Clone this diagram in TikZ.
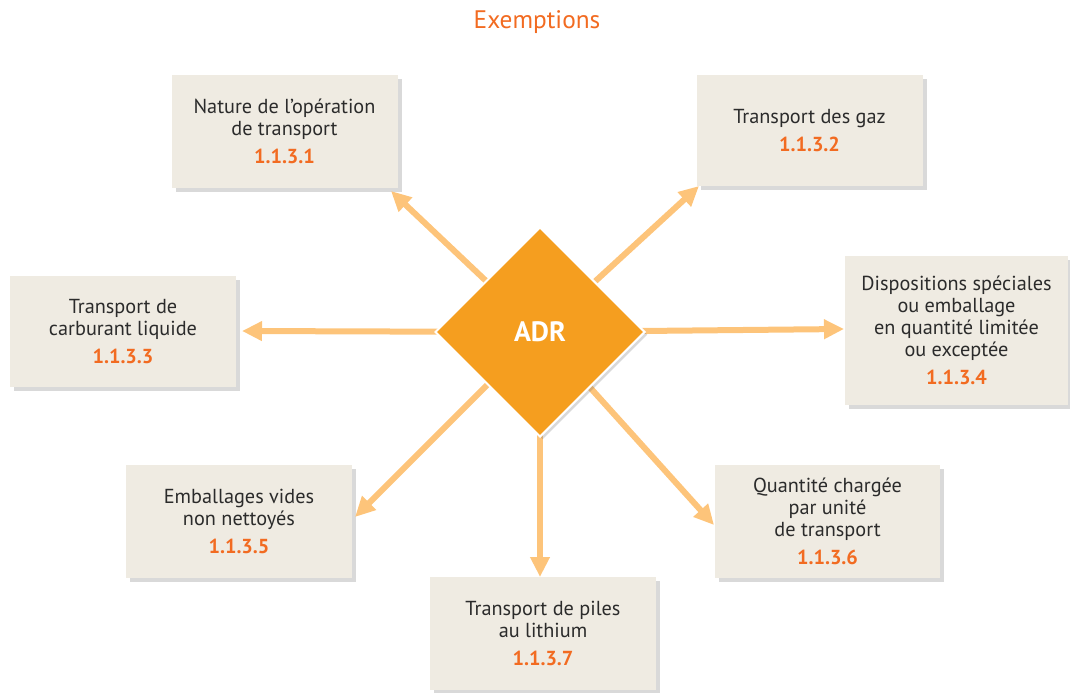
\documentclass[tikz,border=0pt]{standalone}
\usepackage{fontspec}
\setmainfont{PT Sans}
\usetikzlibrary{arrows.meta,shapes.geometric,shadows}
\definecolor{boxfill}{HTML}{EFEBE2}
\definecolor{numorange}{HTML}{F26B21}
\definecolor{arrowc}{HTML}{FDC47A}
\definecolor{diafill}{HTML}{F59E1F}
\definecolor{txt}{HTML}{2B2B2B}
\tikzset{
  infobox/.style={fill=boxfill, draw=none, minimum width=226*0.75pt, inner sep=0pt,
    align=center, text=txt, font=\fontsize{15.2pt}{16.5pt}\selectfont,
    drop shadow={shadow xshift=3pt, shadow yshift=-3pt, opacity=0.25, fill=black!60}},
  ray/.style={draw=arrowc, line width=4.5pt, -{Triangle[length=15pt,width=14pt]}},
}
\newcommand{\nb}[1]{\\[5pt]{\bfseries\color{numorange}#1}}
\begin{document}
\begin{tikzpicture}[x=0.75pt,y=-0.75pt]
\useasboundingbox (0,0) rectangle (1070,692);
% title
\node[text=numorange, font=\fontsize{19pt}{22pt}\selectfont] (title) at (537,22) {Exemptions};
% boxes
\node[infobox, minimum height=113*0.75pt] (b1) at (284.5,131.5) {Nature de l’opération\\de transport\nb{1.1.3.1}};
\node[infobox, minimum height=111*0.75pt] (b2) at (809.5,130.5) {Transport des gaz\nb{1.1.3.2}};
\node[infobox, minimum height=111*0.75pt] (b3) at (123,331.5) {Transport de\\carburant liquide\nb{1.1.3.3}};
\node[infobox, minimum width=223*0.75pt, minimum height=149*0.75pt] (b4) at (956.5,330.5) {Dispositions spéciales\\ou emballage\\en quantité limitée\\ou exceptée\nb{1.1.3.4}};
\node[infobox, minimum height=113*0.75pt] (b5) at (239,521.5) {Emballages vides\\non nettoyés\nb{1.1.3.5}};
\node[infobox, minimum width=225*0.75pt, minimum height=113*0.75pt] (b6) at (827.5,521.5) {Quantité chargée\\par unité\\de transport\nb{1.1.3.6}};
\node[infobox, minimum height=113*0.75pt] (b7) at (543,633.5) {Transport de piles\\au lithium\nb{1.1.3.7}};
% centre
\coordinate (c) at (540,332);
\coordinate (t1) at (391,191);
\coordinate (t2) at (699,186);
\coordinate (t3) at (242,331);
\coordinate (t4) at (844,329);
\coordinate (t5) at (355,517);
\coordinate (t6) at (714,525);
\coordinate (t7) at (540,577);
\foreach \t in {t1,t2,t3,t4,t5,t6,t7}{\draw[ray] (c) -- (\t);}
\node[diamond, aspect=1, fill=diafill, draw=white, line width=1.5pt, inner sep=0pt,
  minimum width=210*0.75pt, minimum height=210*0.75pt,
  drop shadow={shadow xshift=2pt, shadow yshift=-2pt, opacity=0.25, fill=black!60},
  text=white, font=\bfseries\fontsize{21pt}{24pt}\selectfont] (adr) at (c) {ADR};
\end{tikzpicture}
\end{document}
